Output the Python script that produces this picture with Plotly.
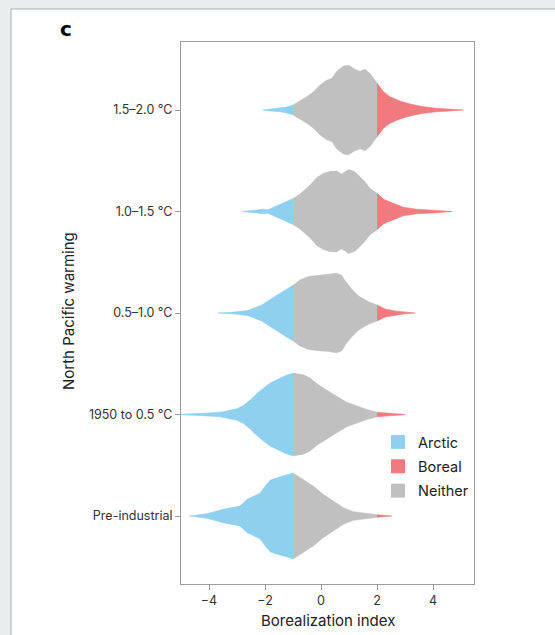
import plotly.graph_objects as go

# ---------------- data ----------------
categories = ["Pre-industrial", "1950 to 0.5 °C", "0.5–1.0 °C", "1.0–1.5 °C", "1.5–2.0 °C"]

# violin density profiles: borealization index sample points and relative density
x_pre = [-4.7, -4.08, -3.5, -2.89, -2.65, -2.4, -2.18, -2.0, -1.82, -1.58, -1.23, -1.0,
         -0.63, -0.27, 0.08, 0.44, 0.8, 1.15, 1.63, 2.0, 2.52]
d_pre = [0, 2.3, 6.7, 10, 16.7, 20, 23, 30, 36, 38.5, 41, 43.3,
         36.7, 30, 21.7, 15, 8.3, 4.3, 2.3, 1.3, 0]

x_1950 = [-5.2, -4.94, -4.32, -3.6, -3.01, -2.77, -2.54, -2.3, -2.06, -1.82, -1.58, -1.29, -1.0,
          -0.63, -0.39, -0.15, 0.08, 0.32, 0.56, 0.92, 1.27, 1.63, 2.0, 2.35, 2.7, 3.0]
d_1950 = [0, 0.5, 1, 2.3, 5.7, 9, 14.3, 21, 26.7, 31.7, 35, 39, 41.7,
          40, 36.7, 31, 26.7, 22.3, 18.3, 12.3, 8.3, 5, 2.3, 1.3, 0.8, 0]

x_05_10 = [-3.67, -3.07, -2.6, -2.12, -1.76, -1.29, -1.0, -0.75, -0.45, -0.1, 0.26, 0.56,
           0.74, 0.86, 1.1, 1.33, 1.69, 2.0, 2.29, 2.64, 3.0, 3.36]
d_05_10 = [0, 1, 2.7, 8, 14.7, 23.3, 28, 33.3, 36.7, 38, 38.7, 40,
           38, 32.3, 24, 17.3, 11.3, 8, 4, 2, 0.7, 0]

x_10_15 = [-2.8, -2.42, -2.06, -1.9, -1.7, -1.46, -1.23, -1.0, -0.75, -0.39, -0.15, 0.08, 0.32,
           0.55, 0.74, 0.98, 1.21, 1.51, 1.75, 2.0, 2.23, 2.58, 2.94, 3.42, 4.13, 4.67]
d_10_15 = [0, 1, 2.3, 1.7, 4.3, 7.3, 10.3, 13, 17.7, 26.7, 34.3, 38.3, 40.3,
           40.7, 37.7, 42.3, 40, 31.7, 23.3, 18.3, 12.3, 8.3, 4.3, 2.3, 1.3, 0]

x_15_20 = [-2.08, -1.82, -1.46, -1.23, -1.0, -0.75, -0.51, -0.27, -0.04, 0.2, 0.38, 0.56,
           0.8, 0.98, 1.21, 1.39, 1.57, 1.75, 1.89, 2.0, 2.23, 2.46, 2.82, 3.18, 3.65,
           4.13, 4.6, 5.08]
d_15_20 = [0, 1, 1.7, 3, 5, 9, 13.3, 18.3, 25, 30, 31.7, 39,
           44.3, 45, 41, 39, 41, 36.7, 31, 27, 18.3, 13.3, 9, 6, 3.3,
           1.7, 1, 0]

profiles = [(x_pre, d_pre), (x_1950, d_1950), (x_05_10, d_05_10),
            (x_10_15, d_10_15), (x_15_20, d_15_20)]

regions = ["Arctic", "Boreal", "Neither"]
region_limits = {"Arctic": (-99, -1.0), "Neither": (-1.0, 2.0), "Boreal": (2.0, 99)}
region_colors = {"Arctic": "#8fd0ee", "Boreal": "#f07a7e", "Neither": "#c0c0c0"}

x_ticks = [-4, -2, 0, 2, 4]

# ---------------- figure ----------------
W, H = 555, 635
L, R, T, B = 181, 81, 42, 51
pw, ph = W - L - R, H - T - B


def px2paper_x(p):
    return (p - L) / pw


def px2paper_y(p):
    return (H - B - p) / ph


max_d = max(max(d) for _, d in profiles)
half_width = 0.44  # category units for the widest point

fig = go.Figure()
for i, (xs, ds) in enumerate(profiles):
    for reg in ["Arctic", "Neither", "Boreal"]:
        lo, hi = region_limits[reg]
        pts = [(x, d) for x, d in zip(xs, ds) if lo <= x <= hi]
        if len(pts) < 2:
            continue
        xx = [p[0] for p in pts] + [p[0] for p in reversed(pts)]
        yy = [i + p[1] / max_d * half_width for p in pts] + \
             [i - p[1] / max_d * half_width for p in reversed(pts)]
        fig.add_trace(go.Scatter(
            x=xx, y=yy, mode="lines", fill="toself",
            fillcolor=region_colors[reg],
            line=dict(color=region_colors[reg], width=0.6),
            showlegend=False, hoverinfo="skip"))

for reg in regions:
    fig.add_trace(go.Scatter(
        x=[None], y=[None], mode="markers", name=reg, legendgroup=reg,
        marker=dict(symbol="square", size=14, color=region_colors[reg])))

axis_common = dict(showline=True, mirror=True, linecolor="#9c9c9c", linewidth=1,
                   ticks="outside", ticklen=5, tickcolor="#9c9c9c", tickwidth=1,
                   showgrid=False, zeroline=False,
                   tickfont=dict(family="Inter", size=12.5, color="#333333"))

fig.update_layout(
    width=W, height=H,
    margin=dict(l=L, r=R, t=T, b=B),
    paper_bgcolor="#e9edee",
    plot_bgcolor="white",
    font=dict(family="Inter", color="#222222"),
    xaxis=dict(range=[-5.0, 5.46], tickvals=x_ticks,
               ticktext=[f"{v:d}".replace("-", "−") for v in x_ticks], **axis_common),
    yaxis=dict(range=[-0.67, 4.67], tickvals=list(range(len(categories))),
               ticktext=categories, **axis_common),
    legend=dict(x=px2paper_x(378), y=px2paper_y(426), xanchor="left", yanchor="top",
                bgcolor="rgba(255,255,255,0)", font=dict(family="Inter", size=14.5, color="#222222"),
                itemwidth=30, traceorder="grouped", tracegroupgap=2.5),
    shapes=[dict(type="rect", xref="paper", yref="paper",
                 x0=px2paper_x(11), x1=px2paper_x(620),
                 y0=px2paper_y(700), y1=px2paper_y(9),
                 fillcolor="white", line=dict(color="#a3adb2", width=1), layer="below")],
    annotations=[
        dict(text="Borealization index", xref="paper", yref="paper",
             x=0.5, y=px2paper_y(620), xanchor="center", yanchor="middle",
             showarrow=False, font=dict(family="Inter", size=15, color="#222222")),
        dict(text="North Pacific warming", xref="paper", yref="paper",
             x=px2paper_x(68), y=px2paper_y(311), xanchor="center", yanchor="middle",
             textangle=-90, showarrow=False,
             font=dict(family="Inter", size=15, color="#222222")),
        dict(text="<b>c</b>", xref="paper", yref="paper",
             x=px2paper_x(66), y=px2paper_y(29), xanchor="center", yanchor="middle",
             showarrow=False, font=dict(family="DejaVu Sans", size=20, color="#000000")),
    ],
)

fig.write_html("out.html")
